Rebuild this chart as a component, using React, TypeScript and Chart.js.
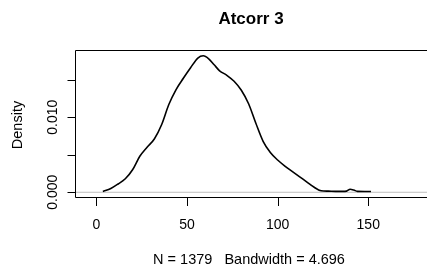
import React, { useEffect, useRef } from "react";
import { Chart, registerables } from "chart.js";

Chart.register(...registerables);

// ---- data ----
const densityX = [3.6, 8, 12, 16, 20, 24, 28, 32, 36, 40, 44, 48, 52, 56, 59, 62, 65, 68, 72, 76, 80, 84, 88, 92, 96, 100, 104, 108, 112, 116, 120, 124, 128, 132, 136, 138, 140, 142, 144, 148, 151.5];
const densityY = [0.0001, 0.0005, 0.0011, 0.0018, 0.003, 0.0048, 0.006, 0.0071, 0.009, 0.0117, 0.0137, 0.0152, 0.0166, 0.0179, 0.0182, 0.0178, 0.017, 0.0162, 0.0156, 0.0148, 0.0136, 0.0118, 0.0092, 0.0068, 0.0053, 0.0043, 0.0035, 0.0028, 0.0021, 0.0014, 0.0007, 0.0002, 0.00015, 0.00012, 0.00012, 0.00015, 0.0004, 0.0003, 0.00012, 0.0001, 0.0001];
const xTicks = [0, 50, 100, 150];
const xTickLabels = ["0", "50", "100", "150"];
const yTicks = [0, 0.005, 0.01, 0.015];
const yTickLabels = ["0.000", "", "0.010", ""];
const xRange = [-11.2, 182.4];
const yRange = [-0.00063, 0.01897];
const titleText = "Atcorr 3";
const subText = "N = 1379   Bandwidth = 4.696";
const yTitleText = "Density";

const FONT = "'Liberation Sans', Arial, sans-serif";

const decorPlugin = {
  id: "rDecor",
  afterDraw(chart: any) {
    const { ctx, chartArea } = chart;
    const xs = chart.scales.x;
    const ys = chart.scales.y;
    const { left, top, right, bottom } = chartArea;
    ctx.save();
    ctx.strokeStyle = "#000";
    ctx.fillStyle = "#000";
    ctx.lineWidth = 1;
    // box
    ctx.beginPath();
    ctx.rect(Math.round(left) - 0.5, Math.round(top) + 0.5, right - left + 2, Math.round(bottom - top) - 0.0);
    ctx.stroke();
    // x ticks
    ctx.beginPath();
    xTicks.forEach((v) => {
      const px = Math.round(xs.getPixelForValue(v)) + 0.5;
      ctx.moveTo(px, bottom);
      ctx.lineTo(px, bottom + 9);
    });
    // y ticks
    yTicks.forEach((v) => {
      const py = Math.round(ys.getPixelForValue(v)) + 0.5;
      ctx.moveTo(left, py);
      ctx.lineTo(left - 8.5, py);
    });
    ctx.stroke();
    // x tick labels
    ctx.font = `14px ${FONT}`;
    ctx.textAlign = "center";
    ctx.textBaseline = "alphabetic";
    xTicks.forEach((v, i) => {
      ctx.fillText(xTickLabels[i], xs.getPixelForValue(v), 229);
    });
    // y tick labels (rotated)
    yTicks.forEach((v, i) => {
      if (!yTickLabels[i]) return;
      ctx.save();
      ctx.translate(57, ys.getPixelForValue(v));
      ctx.rotate(-Math.PI / 2);
      ctx.fillText(yTickLabels[i], 0, 0);
      ctx.restore();
    });
    // y title
    ctx.save();
    ctx.translate(22, 125);
    ctx.rotate(-Math.PI / 2);
    ctx.font = `14.5px ${FONT}`;
    ctx.fillText(yTitleText, 0, 0);
    ctx.restore();
    // sub title
    ctx.font = `14.5px ${FONT}`;
    ctx.fillText(subText, 249, 263.5);
    // main title
    ctx.font = `bold 17px ${FONT}`;
    ctx.fillText(titleText, 251, 24);
    ctx.restore();
  },
};

export default function App() {
  const ref = useRef<HTMLCanvasElement>(null);
  useEffect(() => {
    document.body.style.margin = "0";
    const canvas = ref.current;
    if (!canvas) return;
    const chart = new Chart(canvas, {
      type: "line",
      data: {
        datasets: [
          {
            data: densityX.map((x, i) => ({ x, y: densityY[i] })),
            borderColor: "#000",
            borderWidth: 1.6,
            pointRadius: 0,
            fill: false,
            cubicInterpolationMode: "monotone",
          },
          {
            data: [
              { x: xRange[0], y: 0 },
              { x: xRange[1], y: 0 },
            ],
            borderColor: "#bebebe",
            borderWidth: 1,
            pointRadius: 0,
            fill: false,
          },
        ],
      },
      options: {
        responsive: false,
        animation: false,
        layout: { padding: { left: 76, top: 50, right: 0, bottom: 71 } },
        scales: {
          x: { type: "linear", min: xRange[0], max: xRange[1], display: false },
          y: { type: "linear", min: yRange[0], max: yRange[1], display: false },
        },
        plugins: {
          legend: { display: false },
          tooltip: { enabled: false },
          title: { display: false },
        },
      },
      plugins: [decorPlugin],
    });
    return () => chart.destroy();
  }, []);
  return (
    <div style={{ width: 427, height: 268, background: "#fff" }}>
      <canvas ref={ref} width={427} height={268} style={{ display: "block", width: 427, height: 268 }} />
    </div>
  );
}
